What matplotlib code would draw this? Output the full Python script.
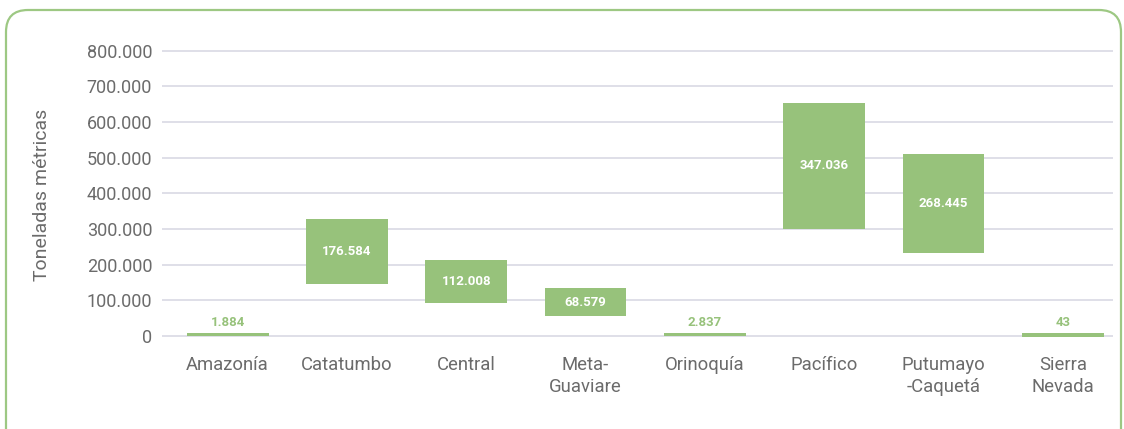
import matplotlib.pyplot as plt
import matplotlib.transforms as mtransforms
from matplotlib.patches import FancyBboxPatch

plt.rcParams['font.family'] = ['Roboto', 'DejaVu Sans']

regions = ['Amazonía', 'Catatumbo', 'Central', 'Meta-\nGuaviare', 'Orinoquía',
           'Pacífico', 'Putumayo\n-Caquetá', 'Sierra\nNevada']
# bar extents (toneladas)
bar_low = [0, 146000, 93000, 56000, 0, 300000, 232000, -3500]
bar_high = [9500, 329000, 213000, 134000, 9500, 654000, 510000, 7500]
# values printed on the bars
totals = [1884, 176584, 112008, 68579, 2837, 347036, 268445, 43]
y_ticks = [0, 100000, 200000, 300000, 400000, 500000, 600000, 700000, 800000]

bar_color = '#97c27b'
text_gray = '#6b6b6b'
grid_color = '#dcdce6'


def fmt(v):
    return f'{v:,.0f}'.replace(',', '.')


fig = plt.figure(figsize=(11.24, 4.29), dpi=100)
ax = fig.add_axes([0.1441, 0.2134, 0.8461, 0.6724])

x_pos = list(range(len(regions)))
heights = [h - l for l, h in zip(bar_low, bar_high)]
ax.bar(x_pos, heights, bottom=bar_low, width=0.686, color=bar_color, zorder=3)

for x, lo, hi, val in zip(x_pos, bar_low, bar_high, totals):
    if hi - lo > 30000:
        ax.text(x, (lo + hi) / 2, fmt(val), ha='center', va='center',
                color='white', fontsize=9.5, fontweight='bold', zorder=4)
    else:
        ax.annotate(fmt(val), (x, hi), xytext=(0, 7.5), textcoords='offset points',
                    ha='center', va='center', color=bar_color, fontsize=9.5,
                    fontweight='bold', zorder=4)

ax.set_xlim(-0.55, 7.42)
ax.set_ylim(-4000, 805000)
ax.set_yticks(y_ticks)
ax.set_yticklabels([fmt(v) for v in y_ticks])
ax.set_xticks(x_pos)
ax.set_xticklabels(regions, linespacing=1.3)
ax.tick_params(axis='y', length=0, pad=7, labelsize=13, labelcolor=text_gray)
ax.tick_params(axis='x', length=0, pad=13, labelsize=13.3, labelcolor=text_gray)
ax.grid(axis='y', color=grid_color, linewidth=1.3, zorder=0)
ax.set_axisbelow(True)
for s in ax.spines.values():
    s.set_visible(False)

fig.text(42 / 1124, 1 - 195 / 429, 'Toneladas métricas', rotation=90,
         ha='center', va='center', fontsize=14, color=text_gray)

# rounded green frame around the chart
frame = FancyBboxPatch((6, -40), 1115, 459, boxstyle='round,pad=0,rounding_size=22',
                       transform=mtransforms.IdentityTransform(), fill=False,
                       edgecolor='#9dc883', linewidth=1.6)
fig.patches.append(frame)

fig.savefig('out.png', dpi=100)
